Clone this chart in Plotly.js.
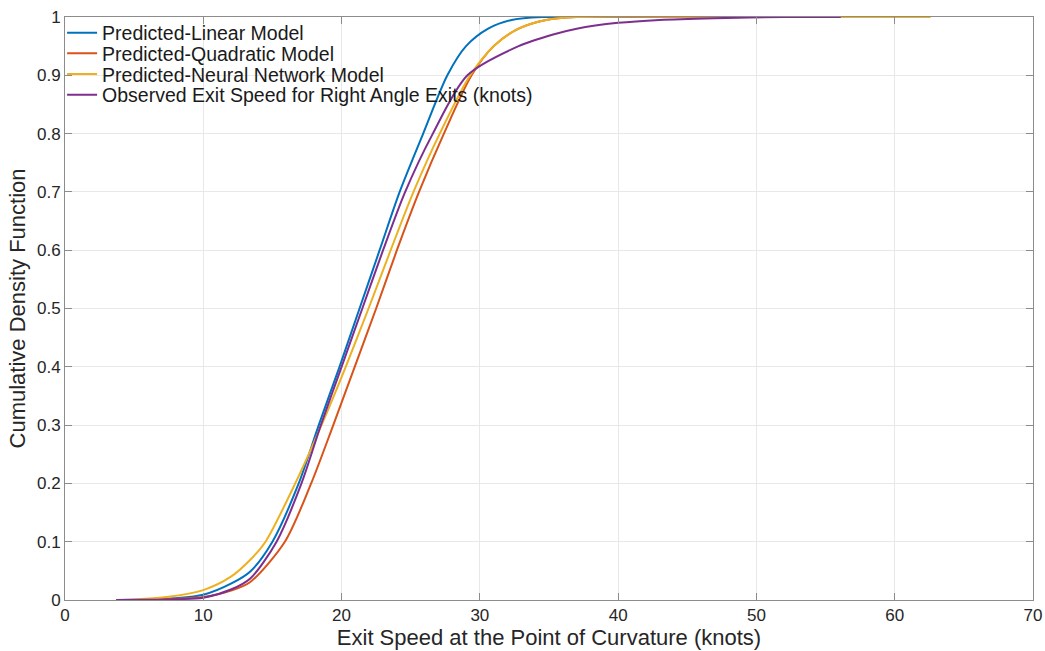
<!DOCTYPE html>
<html>
<head>
<meta charset="utf-8">
<script src="https://cdn.plot.ly/plotly-3.0.1.min.js"></script>
<style>
  html, body { margin: 0; padding: 0; background: #ffffff; }
  #chart { width: 1045px; height: 651px; }
</style>
</head>
<body>
<div id="chart"></div>
<script>
// Cumulative distributions of exit speed (knots) at the point of curvature
const seriesNames = [
  'Predicted-Linear Model',
  'Predicted-Quadratic Model',
  'Predicted-Neural Network Model',
  'Observed Exit Speed for Right Angle Exits (knots)'
];

const linearSpeed = [3.7, 6, 8, 10, 12, 13.4, 15.0, 16.9, 18.35, 19.85, 21.3, 22.75, 24.2, 25.9, 27.65, 29.0, 30.6, 32.3, 34.5, 40, 48];
const linearCdf   = [0, 0.0008, 0.003, 0.009, 0.028, 0.049, 0.1, 0.2, 0.3, 0.4, 0.5, 0.6, 0.7, 0.8, 0.9, 0.95, 0.98, 0.995, 1, 1, 1];

const quadSpeed = [3.7, 6, 8, 10, 12, 13.4, 15.9, 17.8, 19.4, 20.95, 22.5, 24.0, 25.6, 27.4, 29.4, 31.0, 32.8, 34.8, 37.0, 44, 52];
const quadCdf   = [0, 0.0005, 0.002, 0.005, 0.016, 0.031, 0.1, 0.2, 0.3, 0.4, 0.5, 0.6, 0.7, 0.8, 0.9, 0.95, 0.98, 0.995, 1, 1, 1];

const nnSpeed = [3.7, 5.5, 7.35, 10, 12, 13.4, 14.5, 16.65, 18.55, 20.3, 21.95, 23.55, 25.2, 27.1, 29.3, 31.0, 32.8, 34.8, 37.0, 50, 62.6];
const nnCdf   = [0, 0.0015, 0.005, 0.017, 0.04, 0.069, 0.1, 0.2, 0.3, 0.4, 0.5, 0.6, 0.7, 0.8, 0.9, 0.95, 0.98, 0.995, 1, 1, 1];

const obsSpeed = [3.7, 6, 7.35, 10, 12, 13.4, 15.3, 17.1, 18.5, 20.0, 21.5, 23.0, 24.6, 26.6, 29.1, 32.8, 35.3, 37.0, 40.0, 43.0, 47.0, 52.0, 56.1];
const obsCdf   = [0, 0.0005, 0.001, 0.004, 0.018, 0.037, 0.1, 0.2, 0.3, 0.4, 0.5, 0.6, 0.7, 0.8, 0.9, 0.95, 0.97, 0.98, 0.99, 0.995, 0.998, 1, 1];

const lineColors = ['#0072BD', '#D95319', '#EDB120', '#7E2F8E'];

const xTitle = 'Exit Speed at the Point of Curvature (knots)';
const yTitle = 'Cumulative Density Function';

const xs = [linearSpeed, quadSpeed, nnSpeed, obsSpeed];
const ys = [linearCdf, quadCdf, nnCdf, obsCdf];

// one legend box per series so the rows can sit tightly stacked
const legendIds = ['legend', 'legend2', 'legend3', 'legend4'];

const traces = seriesNames.map((name, i) => ({
  type: 'scatter',
  mode: 'lines',
  name: name,
  x: xs[i],
  y: ys[i],
  legend: legendIds[i],
  line: { color: lineColors[i], width: 2, shape: 'spline', smoothing: 0.8 },
  hoverinfo: 'x+y+name'
}));

const fontFamily = '"Liberation Sans", Arial, Helvetica, sans-serif';
const axisGray = '#8c8c8c';

const legendRowY = [0.9726, 0.9371, 0.9017, 0.8662];
function legendBox(yPos) {
  return {
    x: -0.003, y: yPos, xanchor: 'left', yanchor: 'middle',
    bgcolor: 'rgba(255,255,255,0)', borderwidth: 0,
    font: { family: fontFamily, size: 19.5, color: '#1a1a1a' },
    itemwidth: 30
  };
}

const layout = {
  width: 1045,
  height: 651,
  margin: { l: 65, r: 12, t: 17, b: 51, pad: 0 },
  paper_bgcolor: '#ffffff',
  plot_bgcolor: '#ffffff',
  font: { family: fontFamily, size: 17, color: '#262626' },
  showlegend: true,
  legend: legendBox(legendRowY[0]),
  legend2: legendBox(legendRowY[1]),
  legend3: legendBox(legendRowY[2]),
  legend4: legendBox(legendRowY[3]),
  xaxis: {
    range: [0, 70],
    dtick: 10,
    tick0: 0,
    showgrid: true,
    gridcolor: '#e8e8e8',
    gridwidth: 1,
    zeroline: false,
    showline: true,
    linecolor: axisGray,
    linewidth: 1,
    mirror: 'ticks',
    ticks: 'inside',
    ticklen: 7,
    tickcolor: axisGray,
    tickfont: { family: fontFamily, size: 17, color: '#262626' },
    title: { text: xTitle, font: { family: fontFamily, size: 22, color: '#262626' }, standoff: 2 },
    automargin: false
  },
  yaxis: {
    range: [0, 1],
    dtick: 0.1,
    tick0: 0,
    showgrid: true,
    gridcolor: '#e8e8e8',
    gridwidth: 1,
    zeroline: false,
    showline: true,
    linecolor: axisGray,
    linewidth: 1,
    mirror: 'ticks',
    ticks: 'inside',
    ticklen: 7,
    tickcolor: axisGray,
    tickfont: { family: fontFamily, size: 17, color: '#262626' },
    title: { text: yTitle, font: { family: fontFamily, size: 22, color: '#262626' }, standoff: 5 },
    automargin: false
  }
};

Plotly.newPlot('chart', traces, layout, { displayModeBar: false, staticPlot: true });
</script>
</body>
</html>
